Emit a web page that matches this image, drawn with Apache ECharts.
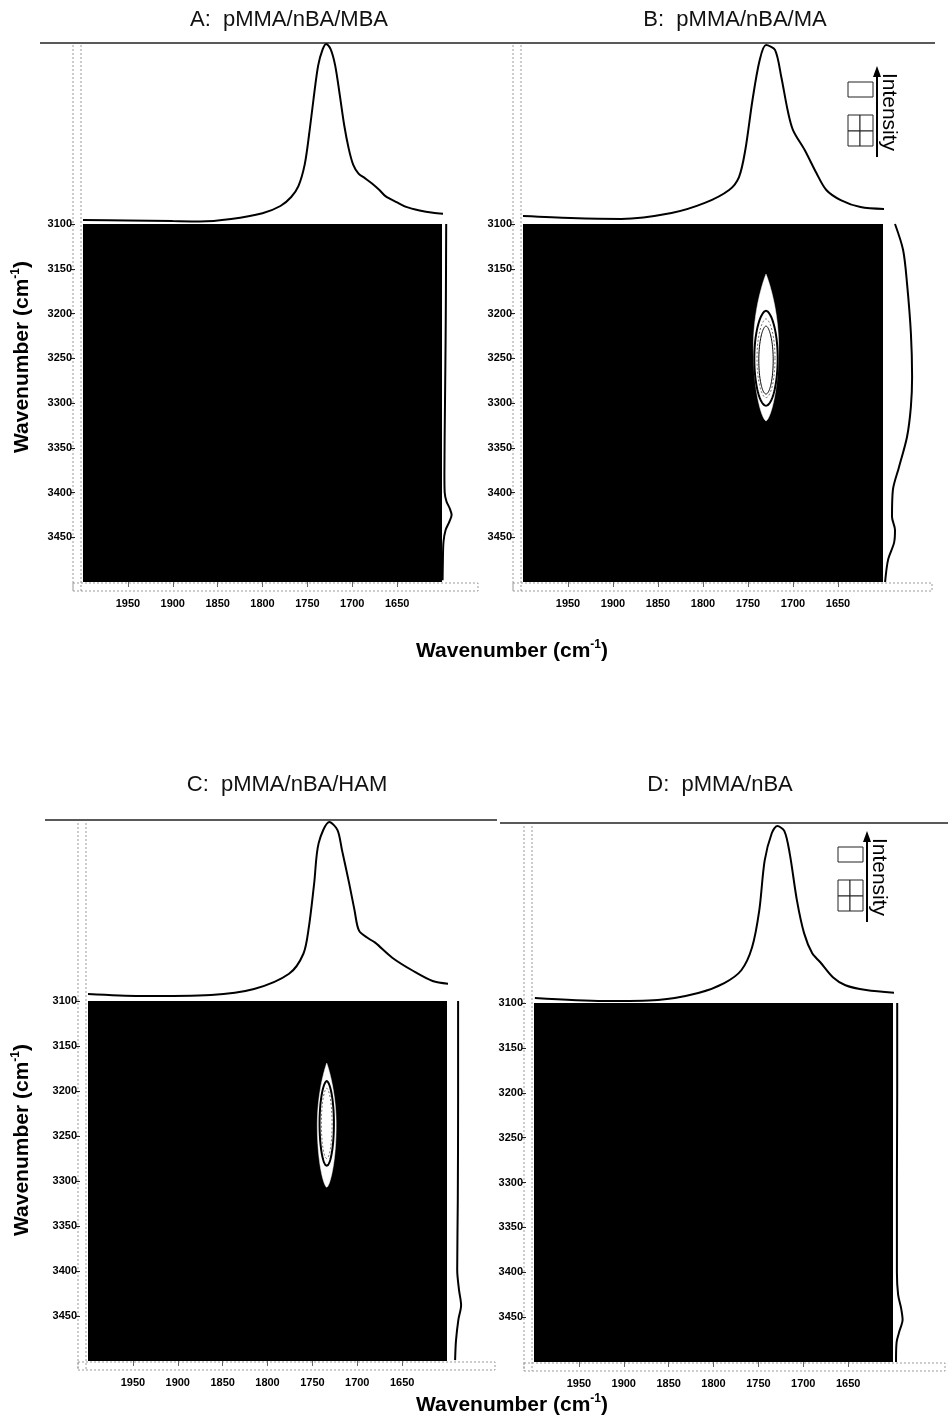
<!DOCTYPE html>
<html>
<head>
<meta charset="utf-8">
<script src="https://cdn.jsdelivr.net/npm/echarts/dist/echarts.min.js"></script>
<style>
  html, body { margin: 0; padding: 0; background: #fff; }
  #chart { width: 948px; height: 1420px; }
</style>
</head>
<body>
<div id="chart"></div>
<script>
// ---- data ---------------------------------------------------------------
const panelTitles = ['A:  pMMA/nBA/MBA', 'B:  pMMA/nBA/MA', 'C:  pMMA/nBA/HAM', 'D:  pMMA/nBA'];
const axisTitle = 'Wavenumber (cm';
const axisTitleSup = '-1';
const legendWord = 'Intensity';

// tick values shown on the 2D maps
const xTickLabels = [1950, 1900, 1850, 1800, 1750, 1700, 1650];
const yTickLabels = [3100, 3150, 3200, 3250, 3300, 3350, 3400, 3450];

// 1-D reference spectra above each map: [wavenumber, normalised intensity]
const topSpecA = [[2000,0.022],[1950,0.02],[1900,0.016],[1870,0.014],[1835,0.028],[1800,0.06],[1780,0.1],[1768,0.15],[1760,0.21],[1753,0.33],[1748,0.5],[1743,0.7],[1738,0.88],[1733,0.97],[1729,1.0],[1724,0.97],[1719,0.88],[1714,0.72],[1709,0.55],[1704,0.42],[1699,0.33],[1693,0.28],[1686,0.255],[1678,0.225],[1670,0.19],[1663,0.155],[1650,0.12],[1640,0.095],[1625,0.075],[1610,0.062],[1597,0.056]];
const topSpecB = [[2000,0.044],[1947,0.033],[1891,0.028],[1835,0.061],[1798,0.117],[1771,0.189],[1760,0.261],[1753,0.411],[1745,0.689],[1737,0.911],[1730,0.994],[1720,0.967],[1713,0.817],[1706,0.633],[1700,0.522],[1687,0.411],[1674,0.283],[1663,0.189],[1647,0.133],[1625,0.094],[1597,0.083]];
const topSpecC = [[2000,0.039],[1942,0.028],[1863,0.034],[1815,0.067],[1776,0.152],[1760,0.264],[1754,0.41],[1748,0.657],[1743,0.882],[1731,1.0],[1722,0.955],[1717,0.843],[1709,0.657],[1703,0.506],[1698,0.393],[1687,0.348],[1680,0.326],[1661,0.242],[1638,0.169],[1616,0.112],[1597,0.096]];
const topSpecD = [[1999,0.028],[1922,0.011],[1862,0.017],[1817,0.056],[1788,0.112],[1769,0.184],[1757,0.313],[1749,0.52],[1743,0.8],[1735,0.955],[1729,0.994],[1721,0.966],[1715,0.838],[1707,0.575],[1699,0.391],[1690,0.279],[1681,0.229],[1667,0.145],[1653,0.1],[1630,0.073],[1594,0.056]];

// 1-D reference spectra beside each map: [wavenumber, normalised intensity]
const sideSpecA = [[3100,0.14],[3180,0.13],[3230,0.12],[3300,0.1],[3380,0.08],[3400,0.09],[3410,0.15],[3418,0.26],[3425,0.32],[3433,0.24],[3442,0.12],[3455,0.05],[3475,0.03],[3498,0.02]];
const sideSpecB = [[3100,0.4],[3129,0.67],[3166,0.8],[3222,0.93],[3271,0.97],[3304,0.93],[3338,0.8],[3372,0.53],[3397,0.33],[3427,0.3],[3442,0.4],[3456,0.37],[3475,0.17],[3500,0.07]];
const sideSpecC = [[3100,0.37],[3210,0.37],[3321,0.36],[3399,0.34],[3421,0.4],[3438,0.47],[3454,0.38],[3477,0.3],[3499,0.27]];
const sideSpecD = [[3100,0.14],[3200,0.14],[3300,0.13],[3400,0.13],[3425,0.17],[3440,0.27],[3453,0.32],[3465,0.22],[3478,0.12],[3500,0.1]];

// correlation contours: [centre wn (x), centre wn (y), half-width, half-height, level]
const contoursA = [];
const contoursB = [[1730,3238,14,82,0],[1730,3250,13,53,1],[1730,3250,10,44,2],[1730,3252,8,38,3]];
const contoursC = [[1734,3238,10.5,69,0],[1734,3236,8,47,1],[1734,3236,6,39,2]];
const contoursD = [];

// ---- drawing ------------------------------------------------------------
const FONT = '"Liberation Sans", Arial, Helvetica, sans-serif';

const panels = [
  { title: panelTitles[0], top: topSpecA, side: sideSpecA, cont: contoursA,
    left: 83, mapTop: 224, w: 359, h: 358, specTop: 44, tx: 289, ty: 20, frameR: 478, key: false },
  { title: panelTitles[1], top: topSpecB, side: sideSpecB, cont: contoursB,
    left: 523, mapTop: 224, w: 360, h: 358, specTop: 44, tx: 735, ty: 20, frameR: 932, key: true, kx: 0, ky: 0 },
  { title: panelTitles[2], top: topSpecC, side: sideSpecC, cont: contoursC,
    left: 88, mapTop: 1001, w: 359, h: 360, specTop: 822, tx: 287, ty: 785, frameR: 495, key: false },
  { title: panelTitles[3], top: topSpecD, side: sideSpecD, cont: contoursD,
    left: 534, mapTop: 1003, w: 359, h: 359, specTop: 825, tx: 720, ty: 785, frameR: 945, key: true, kx: -10, ky: 765 }
];

const contourLook = [
  { fill: '#fff', stroke: '#fff', lw: 0.5, dash: null, pTop: 1.9, pBot: 1.3 },
  { fill: null, stroke: '#000', lw: 2, dash: null, pTop: 1.15, pBot: 1.05 },
  { fill: null, stroke: '#666', lw: 1, dash: [2, 2], pTop: 1.15, pBot: 1.05 },
  { fill: null, stroke: '#000', lw: 1, dash: null, pTop: 1.15, pBot: 1.05 }
];

function renderContour(params, api) {
  const c = api.coord([api.value(0), api.value(1)]);
  const sz = api.size([api.value(2), api.value(3)]);
  const rx = Math.abs(sz[0]), ry = Math.abs(sz[1]);
  const look = contourLook[api.value(4)];
  const pts = [];
  const n = 120;
  for (let k = 0; k < n; k++) {
    const t = k / n * Math.PI * 2;
    const s = Math.sin(t), co = Math.cos(t);
    const p = s < 0 ? look.pTop : look.pBot;
    pts.push([c[0] + rx * Math.sign(co) * Math.pow(Math.abs(co), p), c[1] + ry * s]);
  }
  return {
    type: 'polygon',
    shape: { points: pts },
    style: { fill: look.fill || 'none', stroke: look.stroke, lineWidth: look.lw, lineDash: look.dash }
  };
}

const grids = [], xAxes = [], yAxes = [], series = [], graphics = [];
const xMin = 1600, xMax = 2000, yMin = 3100, yMax = 3500;
const SIDE_W = 30;
const tickFont = { color: '#000', fontSize: 11, fontWeight: 'bold', fontFamily: FONT, formatter: v => String(v) };

panels.forEach((p, i) => {
  const base = i * 3;
  // spectrum above
  grids.push({ left: p.left, top: p.specTop, width: p.w, height: p.mapTop - p.specTop, containLabel: false });
  xAxes.push({ gridIndex: base, type: 'value', min: xMin, max: xMax, inverse: true, show: false });
  yAxes.push({ gridIndex: base, type: 'value', min: 0, max: 1, show: false });
  // 2D map
  grids.push({ left: p.left, top: p.mapTop, width: p.w, height: p.h, show: true,
               backgroundColor: '#000', borderColor: '#000', borderWidth: 0, containLabel: false });
  xAxes.push({
    gridIndex: base + 1, type: 'value', min: xMin, max: xMax, inverse: true, interval: 50,
    position: 'bottom', offset: 0,
    axisLine: { show: false },
    axisTick: { show: true, length: 5, customValues: xTickLabels, lineStyle: { color: '#666', width: 1 } },
    splitLine: { show: false },
    axisLabel: Object.assign({ margin: 16, customValues: xTickLabels }, tickFont)
  });
  yAxes.push({
    gridIndex: base + 1, type: 'value', min: yMin, max: yMax, inverse: true, interval: 50,
    position: 'left', offset: 8,
    axisLine: { show: false },
    axisTick: { show: true, length: 4, customValues: yTickLabels, lineStyle: { color: '#222', width: 1 } },
    splitLine: { show: false },
    axisLabel: Object.assign({ margin: 3, customValues: yTickLabels }, tickFont)
  });
  // spectrum beside
  grids.push({ left: p.left + p.w, top: p.mapTop, width: SIDE_W, height: p.h, containLabel: false });
  xAxes.push({ gridIndex: base + 2, type: 'value', min: 0, max: 1, show: false });
  yAxes.push({ gridIndex: base + 2, type: 'value', min: yMin, max: yMax, inverse: true, show: false });

  series.push({
    type: 'line', xAxisIndex: base, yAxisIndex: base, data: p.top,
    symbol: 'none', smooth: 0.3, clip: false, silent: true,
    lineStyle: { color: '#000', width: 2 }
  });
  series.push({
    type: 'custom', xAxisIndex: base + 1, yAxisIndex: base + 1, data: p.cont,
    renderItem: renderContour, silent: true, clip: true
  });
  series.push({
    type: 'line', xAxisIndex: base + 2, yAxisIndex: base + 2,
    data: p.side.map(d => [d[1], d[0]]),
    symbol: 'none', smooth: 0.3, clip: false, silent: true,
    lineStyle: { color: '#000', width: 2 }
  });

  // panel title
  graphics.push({ type: 'text', x: p.tx, y: p.ty, silent: true,
    style: { text: p.title, font: '22px ' + FONT, fill: '#111', textAlign: 'center', textVerticalAlign: 'middle' } });

  // dotted frame around the map
  const fx = p.left - 10, bottom = p.mapTop + p.h;
  const dash = { stroke: '#9a9a9a', lineWidth: 1, lineDash: [2, 2] };
  graphics.push({ type: 'line', silent: true, shape: { x1: fx, y1: p.specTop + 1, x2: fx, y2: bottom + 9 }, style: dash });
  graphics.push({ type: 'line', silent: true, shape: { x1: p.left - 2, y1: p.specTop + 1, x2: p.left - 2, y2: bottom + 9 }, style: dash });
  graphics.push({ type: 'rect', silent: true, shape: { x: fx, y: bottom + 1, width: p.frameR - fx, height: 8 },
    style: { fill: 'none', stroke: '#9a9a9a', lineWidth: 1, lineDash: [2, 2] } });

  // intensity key
  if (p.key) {
    const kx = p.kx, ky = p.ky;
    const box = (x, y, w, h) => ({ type: 'rect', silent: true, shape: { x: x + kx, y: y + ky, width: w, height: h },
      style: { fill: '#fff', stroke: '#222', lineWidth: 1 } });
    graphics.push(box(848, 82, 25, 15));
    graphics.push(box(848, 115, 12, 16));
    graphics.push(box(860, 115, 13, 16));
    graphics.push(box(848, 131, 12, 15));
    graphics.push(box(860, 131, 13, 15));
    graphics.push({ type: 'line', silent: true, shape: { x1: 877 + kx, y1: 157 + ky, x2: 877 + kx, y2: 74 + ky },
      style: { stroke: '#000', lineWidth: 2 } });
    graphics.push({ type: 'polygon', silent: true,
      shape: { points: [[877 + kx, 66 + ky], [873 + kx, 77 + ky], [881 + kx, 77 + ky]] },
      style: { fill: '#000' } });
    graphics.push({ type: 'text', x: 889 + kx, y: 112 + ky, rotation: -Math.PI / 2, silent: true,
      style: { text: legendWord, font: '21px ' + FONT, fill: '#000', textAlign: 'center', textVerticalAlign: 'middle' } });
  }
});

// solid rules along the top of each row
graphics.push({ type: 'line', silent: true, shape: { x1: 40, y1: 43, x2: 935, y2: 43 }, style: { stroke: '#222', lineWidth: 1.5 } });
graphics.push({ type: 'line', silent: true, shape: { x1: 45, y1: 820, x2: 497, y2: 820 }, style: { stroke: '#222', lineWidth: 1.5 } });
graphics.push({ type: 'line', silent: true, shape: { x1: 500, y1: 823, x2: 948, y2: 823 }, style: { stroke: '#222', lineWidth: 1.5 } });

// shared axis titles
const titleRich = {
  a: { fontSize: 21, fontWeight: 'bold', fontFamily: FONT, fill: '#000', lineHeight: 26 },
  s: { fontSize: 12, fontWeight: 'bold', fontFamily: FONT, fill: '#000', lineHeight: 26, padding: [0, 0, 12, 0] }
};
const titleText = '{a|' + axisTitle + '}{s|' + axisTitleSup + '}{a|)}';
[[512, 651], [512, 1405]].forEach(([x, y]) => {
  graphics.push({ type: 'text', x: x, y: y, silent: true,
    style: { text: titleText, rich: titleRich, textAlign: 'center', textVerticalAlign: 'middle' } });
});
[[22, 357], [22, 1140]].forEach(([x, y]) => {
  graphics.push({ type: 'text', x: x, y: y, rotation: Math.PI / 2, silent: true,
    style: { text: titleText, rich: titleRich, textAlign: 'center', textVerticalAlign: 'middle' } });
});

const chart = echarts.init(document.getElementById('chart'), null, { renderer: 'canvas' });
chart.setOption({
  animation: false,
  backgroundColor: '#fff',
  grid: grids,
  xAxis: xAxes,
  yAxis: yAxes,
  series: series,
  graphic: { elements: graphics }
});
</script>
</body>
</html>
